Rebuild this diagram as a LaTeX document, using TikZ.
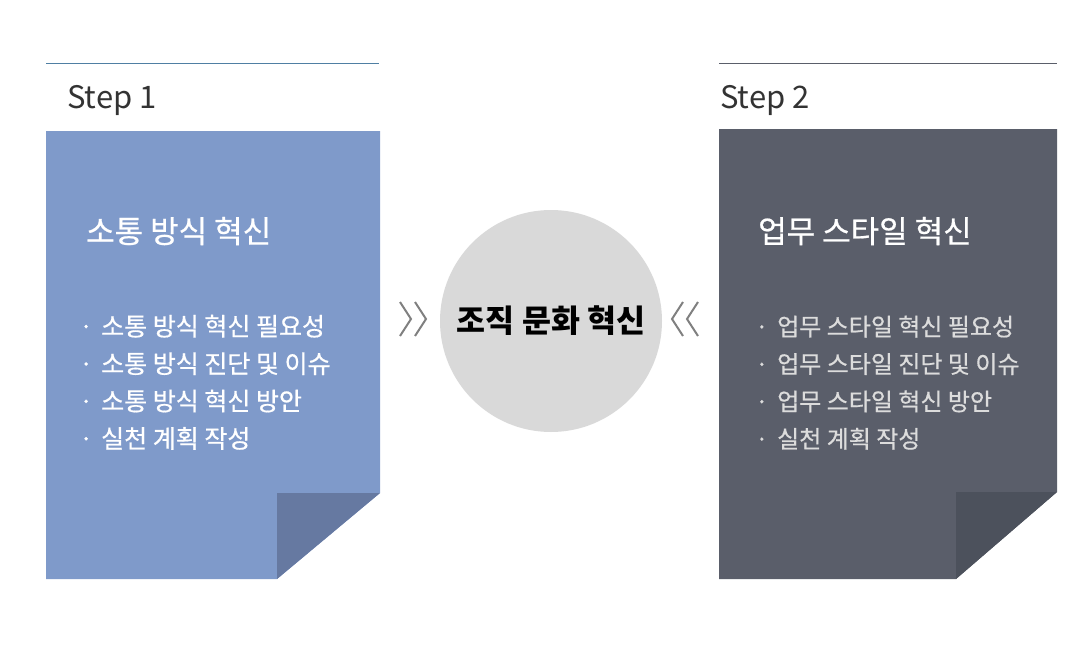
\documentclass[tikz,border=0pt]{standalone}
\usepackage{fontspec}
\setmainfont{Noto Sans CJK KR}
\newfontfamily\medfont[FakeBold=0.6]{Noto Sans CJK KR}
\usetikzlibrary{positioning}

\definecolor{blueface}{HTML}{7F9ACA}
\definecolor{bluefold}{HTML}{6679A1}
\definecolor{blueline}{HTML}{4F7FA3}
\definecolor{grayface}{HTML}{5A5E6A}
\definecolor{grayfold}{HTML}{4C515C}
\definecolor{grayline}{HTML}{5A5E6A}
\definecolor{steptext}{HTML}{333333}
\definecolor{corefill}{HTML}{D9D9D9}
\definecolor{chevgray}{HTML}{808080}
\definecolor{itemgray}{HTML}{DCDCDC}

\newcommand{\bul}{\makebox[22pt][l]{·}}

\begin{document}
\begin{tikzpicture}[
  x=1pt, y=-1pt,
  steplabel/.style={anchor=base west, inner sep=0pt, text=steptext,
                    font=\fontsize{31}{35}\selectfont},
  boxtitle/.style={anchor=west, inner sep=0pt, text=white,
                   text height=27.3pt, text depth=3.7pt,
                   font=\medfont\fontsize{31}{35}\selectfont},
  item/.style={anchor=west, inner sep=0pt,
               text height=22.4pt, text depth=3.1pt,
               font=\medfont\fontsize{25}{30}\selectfont},
  graitem/.style={item, text=itemgray, font=\medfont\fontsize{24}{30}\selectfont},
  chevron/.style={draw=chevgray, line width=2pt},
  core/.style={circle, fill=corefill, minimum size=222pt, inner sep=0pt,
               font=\bfseries\fontsize{31.5}{35}\selectfont}
]
\useasboundingbox (0,0) rectangle (1079,653);

% step 1
\draw[blueline, line width=1pt] (46,63) -- (379,63);
\node[steplabel] (s1) at (67,108) {Step 1};
\fill[blueface] (46,131) -- (380,131) -- (380,493) -- (277,579) -- (46,579) -- cycle;
\fill[bluefold] (277,493) -- (380,493) -- (277,579) -- cycle;
\node[boxtitle] (t1) at (86,231) {소통 방식 혁신};
\node[item, text=white] (a1) at (79,326) {\bul 소통 방식 혁신 필요성};
\node[item, text=white, below=11.5pt of a1.south west, anchor=north west] (a2) {\bul 소통 방식 진단 및 이슈};
\node[item, text=white, below=11.5pt of a2.south west, anchor=north west] (a3) {\bul 소통 방식 혁신 방안};
\node[item, text=white, below=11.5pt of a3.south west, anchor=north west] (a4) {\bul 실천 계획 작성};

% step 2
\draw[grayline, line width=1pt] (719,63) -- (1057,63);
\node[steplabel] (s2) at (720,108) {Step 2};
\fill[grayface] (719,129) -- (1057,129) -- (1057,492) -- (956,579) -- (719,579) -- cycle;
\fill[grayfold] (956,492) -- (1057,492) -- (956,579) -- cycle;
\node[boxtitle] (t2) at (758,231) {업무 스타일 혁신};
\node[graitem] (b1) at (755,326) {\bul 업무 스타일 혁신 필요성};
\node[graitem, below=11.5pt of b1.south west, anchor=north west] (b2) {\bul 업무 스타일 진단 및 이슈};
\node[graitem, below=11.5pt of b2.south west, anchor=north west] (b3) {\bul 업무 스타일 혁신 방안};
\node[graitem, below=11.5pt of b3.south west, anchor=north west] (b4) {\bul 실천 계획 작성};

% center
\node[core] (culture) at (551,321) {조직 문화 혁신};
\draw[chevron] (400,302) -- (411,319) -- (400,336);
\draw[chevron] (415,302) -- (426,319) -- (415,336);
\draw[chevron] (683,302) -- (672,319) -- (683,336);
\draw[chevron] (698,302) -- (687,319) -- (698,336);
\end{tikzpicture}
\end{document}
